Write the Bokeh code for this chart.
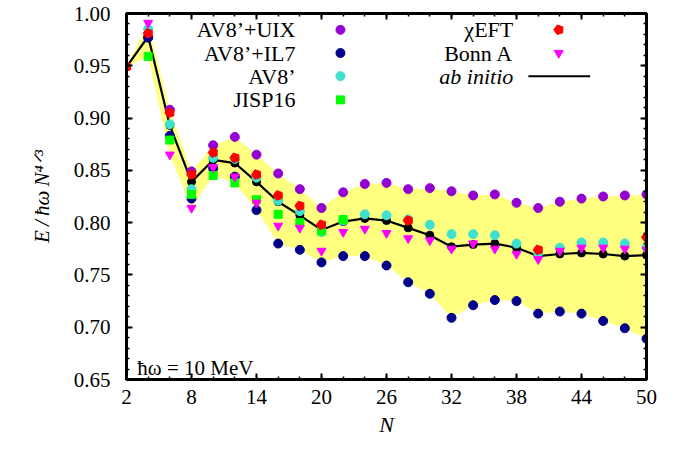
import numpy as np
from bokeh.plotting import figure
from bokeh.models import Range1d, LinearAxis, FixedTicker, Label, CustomJSTickFormatter
from bokeh.embed import file_html
from bokeh.resources import INLINE

# ---------------- data ----------------
N_all = list(range(2, 51, 2))
N_4 = list(range(4, 51, 2))

uix = [0.977, 0.908, 0.849, 0.874, 0.882, 0.865, 0.847, 0.832, 0.814, 0.829, 0.837, 0.838,
       0.832, 0.833, 0.830, 0.826, 0.827, 0.819, 0.814, 0.820, 0.823, 0.825, 0.826, 0.827]
il7 = [0.977, 0.883, 0.823, 0.852, 0.844, 0.812, 0.780, 0.774, 0.762, 0.768, 0.768, 0.759,
       0.743, 0.732, 0.709, 0.721, 0.726, 0.725, 0.713, 0.715, 0.713, 0.706, 0.699, 0.689]
av8 = [0.985, 0.894, 0.832, 0.862, 0.861, 0.843, 0.821, 0.811, 0.791, 0.802, 0.808, 0.807,
       0.803, 0.798, 0.789, 0.789, 0.788, 0.780, 0.771, 0.776, 0.781, 0.781, 0.780, 0.776]
N_jisp = [4, 6, 8, 10, 12, 14, 16, 18, 20, 22]
jisp = [0.959, 0.879, 0.827, 0.845, 0.838, 0.822, 0.808, 0.800, 0.792, 0.803]
N_chi = [2, 4, 6, 8, 10, 12, 14, 16, 18, 20, 28, 40, 50]
chi = [0.949, 0.981, 0.905, 0.846, 0.867, 0.862, 0.846, 0.826, 0.816, 0.798, 0.802, 0.774, 0.786]
bonn = [0.991, 0.865, 0.814, 0.853, 0.844, 0.819, 0.797, 0.795, 0.773, 0.791, 0.794, 0.790,
        0.785, 0.783, 0.775, 0.780, 0.775, 0.770, 0.765, 0.773, 0.776, 0.776, 0.775, 0.774]
abinitio = [0.949, 0.978, 0.893, 0.839, 0.860, 0.857, 0.839, 0.820, 0.807, 0.793, 0.801, 0.804,
            0.802, 0.795, 0.788, 0.777, 0.779, 0.780, 0.776, 0.768, 0.770, 0.771, 0.770, 0.768, 0.769]

x_major = [2, 8, 14, 20, 26, 32, 38, 44, 50]
y_major = [0.65, 0.70, 0.75, 0.80, 0.85, 0.90, 0.95, 1.00]

left_labels = ["AV8’+UIX", "AV8’+IL7", "AV8’", "JISP16"]
right_labels = ["χEFT", "Bonn A", "ab initio"]

# envelope band from all series
series = [(N_4, uix), (N_4, il7), (N_4, av8), (N_jisp, jisp), (N_chi, chi), (N_4, bonn), (N_all, abinitio)]
band_lo, band_hi = [], []
for n in N_all:
    vals = [v for xs, ys in series for xx, v in zip(xs, ys) if xx == n]
    band_lo.append(min(vals))
    band_hi.append(max(vals))

# ---------------- layout ----------------
FONT = "Liberation Serif"
W, H = 671, 439
FL, FR, FT, FB = 126, 646, 13, 381   # frame edges (figure px)
X0, X1, Y0, Y1 = 2, 50, 0.65, 1.00

# legend placement (in axis units)
LEG_ROWS = [0.9844, 0.9622, 0.9401, 0.9174]
LEG_L_TEXT, LEG_L_MARK = 17.6, 21.75
LEG_R_TEXT, LEG_R_MARK = 37.7, 41.9
LEG_R_LINE = (39.1, 44.8)

p = figure(width=W, height=H, output_backend="svg", toolbar_location=None,
           x_range=Range1d(X0, X1), y_range=Range1d(Y0, Y1),
           min_border_left=FL, min_border_right=W - FR,
           min_border_top=FT, min_border_bottom=H - FB)
p.grid.visible = False
p.outline_line_color = "black"
p.outline_line_width = 3
p.background_fill_color = "white"
p.border_fill_color = "white"

xt = FixedTicker(ticks=x_major, minor_ticks=list(range(2, 51, 2)))
yt = FixedTicker(ticks=y_major, minor_ticks=[round(0.65 + 0.01 * i, 2) for i in range(36)])

def style_axis(ax):
    ax.axis_line_width = 3
    ax.axis_line_color = "black"
    ax.major_tick_in = 6
    ax.major_tick_out = 0
    ax.minor_tick_in = 3
    ax.minor_tick_out = 0
    ax.major_tick_line_width = 2
    ax.minor_tick_line_width = 1.5
    ax.major_label_text_font = FONT
    ax.major_label_text_font_size = "21px"
    ax.major_label_text_color = "black"

p.xaxis.ticker = xt
p.yaxis.ticker = yt
style_axis(p.xaxis[0])
style_axis(p.yaxis[0])
p.xaxis.major_label_standoff = 10
p.yaxis.major_label_standoff = 16
p.yaxis.formatter = CustomJSTickFormatter(code="return tick.toFixed(2);")
p.xaxis.axis_label = "N"
p.xaxis.axis_label_text_font = FONT
p.xaxis.axis_label_text_font_style = "italic"
p.xaxis.axis_label_text_font_size = "22px"
p.xaxis.axis_label_standoff = 5
p.xaxis.axis_label_text_color = "black"

p.yaxis.axis_label = "E\u2009/\u2009ħω\u2009N⁴ᐟ³"
p.yaxis.axis_label_text_font = FONT
p.yaxis.axis_label_text_font_style = "italic"
p.yaxis.axis_label_text_font_size = "21px"
p.yaxis.axis_label_standoff = 17
p.yaxis.axis_label_text_color = "black"

top = LinearAxis(ticker=xt, formatter=CustomJSTickFormatter(code="return '';"))
right = LinearAxis(ticker=yt, formatter=CustomJSTickFormatter(code="return '';"))
for ax in (top, right):
    style_axis(ax)
    ax.major_label_standoff = 0
p.add_layout(top, "above")
p.add_layout(right, "right")

# band
p.varea(x=N_all, y1=band_lo, y2=band_hi, fill_color="#FFFF80")

# ab initio line
p.line(N_all, abinitio, line_color="black", line_width=2.2)
p.scatter(N_all, abinitio, size=8, color="black")

SZ = 9
p.scatter(N_4, uix, size=SZ, color="#9400D3")
p.scatter(N_4, il7, size=SZ, color="#00008B")
p.scatter(N_4, av8, size=SZ, color="#40E0D0")
p.scatter(N_jisp, jisp, marker="square", size=8, color="#00FF00")

def pentagon(xs, ys, r):
    try:
        p.ngon(x=xs, y=ys, radius=r, radius_units="screen", n=5, angle=np.pi / 2,
               fill_color="#FF0000", line_color="#FF0000")
    except Exception:
        p.scatter(xs, ys, marker="hex", size=2 * r, color="#FF0000")

pentagon(N_chi, chi, 5)
p.scatter(N_4, bonn, marker="inverted_triangle", size=SZ, color="#FF00FF")

# ---------------- legend (manual) ----------------
for lab, r in zip(left_labels, LEG_ROWS):
    p.add_layout(Label(x=LEG_L_TEXT, y=r, text=lab, text_align="right", text_baseline="middle",
                       text_font=FONT, text_font_size="22px", text_color="black"))
p.scatter([LEG_L_MARK], [LEG_ROWS[0]], size=SZ, color="#9400D3")
p.scatter([LEG_L_MARK], [LEG_ROWS[1]], size=SZ, color="#00008B")
p.scatter([LEG_L_MARK], [LEG_ROWS[2]], size=SZ, color="#40E0D0")
p.scatter([LEG_L_MARK], [LEG_ROWS[3]], marker="square", size=8, color="#00FF00")

for lab, r in zip(right_labels, LEG_ROWS[:3]):
    p.add_layout(Label(x=LEG_R_TEXT, y=r, text=lab, text_align="right", text_baseline="middle",
                       text_font=FONT, text_font_size="22px", text_color="black",
                       text_font_style="italic" if lab == "ab initio" else "normal"))
pentagon([LEG_R_MARK], [LEG_ROWS[0]], 5)
p.scatter([LEG_R_MARK], [LEG_ROWS[1]], marker="inverted_triangle", size=SZ, color="#FF00FF")
p.line(list(LEG_R_LINE), [LEG_ROWS[2], LEG_ROWS[2]], line_color="black", line_width=2)

# hbar omega annotation
p.add_layout(Label(x=3.0, y=0.661, text="ħω = 10 MeV", text_align="left",
                   text_baseline="alphabetic", text_font=FONT, text_font_size="21px",
                   text_color="black"))

open("out.html", "w").write(file_html(p, INLINE))
